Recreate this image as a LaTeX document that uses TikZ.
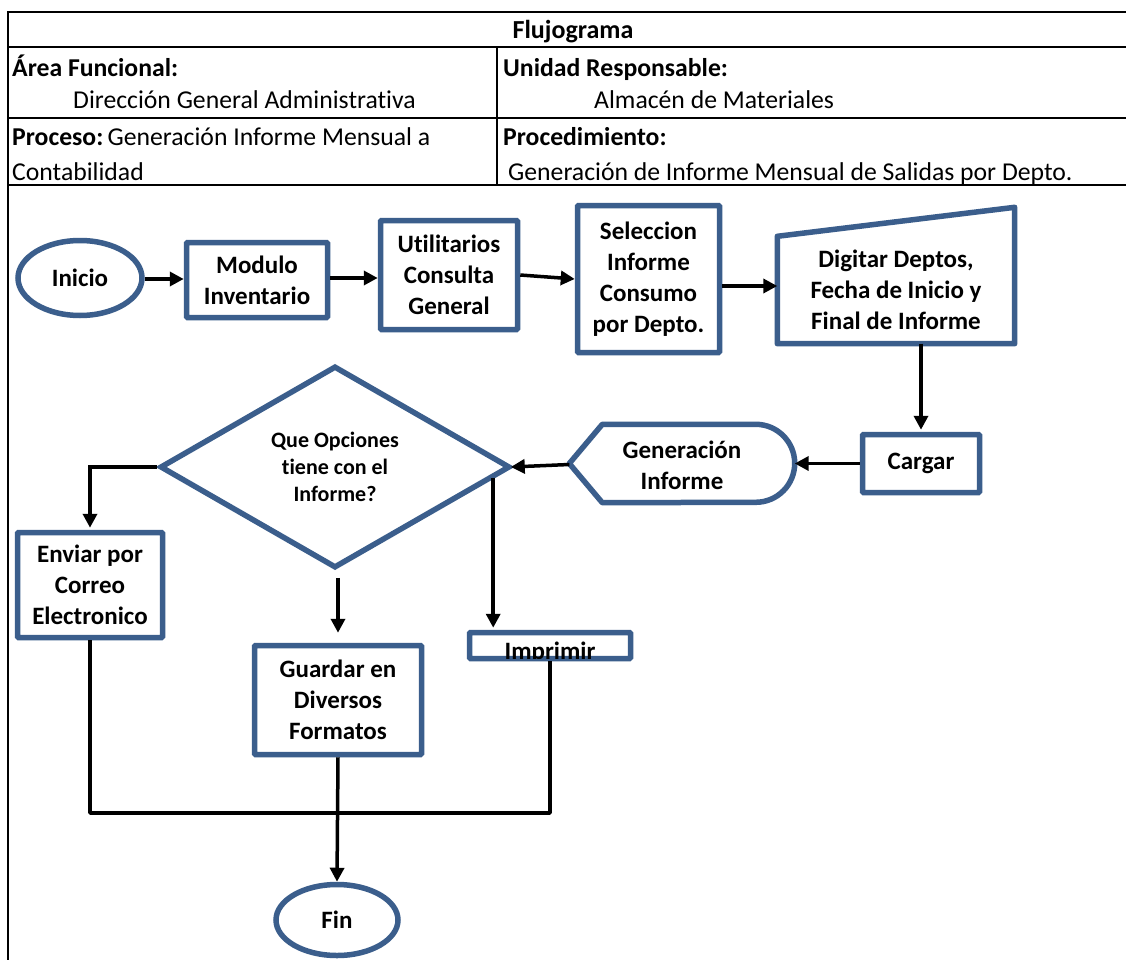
\documentclass[tikz,border=0pt]{standalone}
\usepackage{fontspec}
\setmainfont{Carlito}[Ligatures={NoCommon}]
\usetikzlibrary{shapes.geometric,arrows.meta,calc}
\definecolor{shapeblue}{HTML}{3B5E8C}
\begin{document}
\begin{tikzpicture}[x=1pt,y=-1pt,
  outline/.style={draw=shapeblue, line width=5.5pt, fill=white},
  boxnode/.style={outline, rectangle, rounded corners=1pt, align=center, inner sep=0pt,
    font=\bfseries\fontsize{25}{31}\selectfont},
  ovalnode/.style={outline, ellipse, inner sep=0pt, font=\bfseries\fontsize{25}{31}\selectfont},
  flow/.style={draw=black, line width=3.5pt, -{Triangle[length=14pt,width=14pt]}},
  joinline/.style={draw=black, line width=3.5pt},
  gridline/.style={draw=black, line width=1.6pt},
  heavyline/.style={draw=black, line width=2.4pt},
  cell/.style={anchor=base west, inner sep=0pt, font=\fontsize{25.7}{31}\selectfont},
]
\useasboundingbox (0,0) rectangle (1126,960);
\fill[white] (0,0) rectangle (1126,960);

% ---- header table ----
\draw[gridline] (8,960) -- (8,12) -- (1130,12);
\draw[gridline] (8,47) -- (1130,47);
\draw[heavyline] (8,118) -- (1130,118);
\draw[heavyline] (8,185) -- (1130,185);
\draw[gridline] (497,47) -- (497,185);

\node[anchor=base, inner sep=0pt, font=\bfseries\fontsize{26}{31}\selectfont] (title) at (573,39) {Flujograma};
\node[cell, font=\bfseries\fontsize{25.7}{31}\selectfont] (area) at (12,77) {Área Funcional:};
\node[cell] (areav) at (73,109) {Dirección General Administrativa};
\node[cell, font=\bfseries\fontsize{25.7}{31}\selectfont] (unid) at (503,77) {Unidad Responsable:};
\node[cell] (unidv) at (594,109) {Almacén de Materiales};
\node[cell] (proc) at (12,146) {\textbf{Proceso:}\,Generación Informe Mensual a};
\node[cell] (procv) at (12,180) {Contabilidad};
\node[cell, font=\bfseries\fontsize{25.7}{31}\selectfont] (pdto) at (503,146) {Procedimiento:};
\node[cell] (pdtov) at (508,180) {Generación de Informe Mensual de Salidas por Depto.};

% ---- flowchart shapes ----
\node[ovalnode, minimum width=124, minimum height=75] (ini) at (80,278) {Inicio};
\node[boxnode, minimum width=141, minimum height=75] (mod) at (257,280) {Modulo\\Inventario};
\node[boxnode, minimum width=137, minimum height=109] (util) at (449,275) {Utilitarios\\Consulta\\General};
\node[boxnode, minimum width=142, minimum height=147] (sel) at (648.5,279) {Seleccion\\Informe\\Consumo\\por Depto.};

% manual input (slanted top)
\node[rectangle, minimum width=237, minimum height=107, inner sep=0pt, align=center,
  font=\bfseries\fontsize{25}{31}\selectfont] (dig) at (896,290) {Digitar Deptos,\\Fecha de Inicio y\\Final de Informe};
\draw[draw=shapeblue, line width=5.5pt, line join=round]
  (dig.south west) -- (dig.south east) -- ([yshift=29pt]dig.north east) -- (dig.north west) -- cycle;

\node[boxnode, minimum width=117, minimum height=58] (car) at (921,463.5) {Cargar};

% display shape
\node[rectangle, minimum width=225, minimum height=78, inner sep=0pt] (gen) at (682,463.5) {};
\draw[draw=shapeblue, line width=5.5pt, line join=round, fill=white]
  (gen.west) -- ([xshift=33pt]gen.north west) -- ([xshift=-39pt]gen.north east)
  arc[start angle=90, end angle=-90, radius=39pt]
  -- ([xshift=33pt]gen.south west) -- cycle;
\node[align=center, inner sep=0pt, font=\bfseries\fontsize{25}{31}\selectfont] (gentxt) at (682,465) {Generación\\Informe};

\node[outline, diamond, aspect=1.73, minimum width=350, minimum height=202, inner sep=0pt,
  align=center, font=\bfseries\fontsize{22}{27}\selectfont] (dec) at (335,467) {Que Opciones\\tiene con el\\Informe?};

\node[boxnode, minimum width=145, minimum height=105] (env) at (90,585) {Enviar por\\Correo\\Electronico};
\node[boxnode, minimum width=167, minimum height=109] (gua) at (338,700) {Guardar en\\Diversos\\Formatos};
\node[boxnode, minimum width=161, minimum height=26] (imp) at (550,645.5) {};
\begin{scope}
  \clip ([shift={(2.75pt,2.75pt)}]imp.south west) rectangle ([shift={(-2.75pt,-2.75pt)}]imp.north east);
  \node[anchor=base, inner sep=0pt, font=\bfseries\fontsize{25}{31}\selectfont] (imptxt) at ([yshift=2pt]imp.south) {Imprimir};
\end{scope}

\node[ovalnode, minimum width=122, minimum height=71] (fin) at (337,920) {Fin};

% ---- connectors ----
\draw[flow] ([yshift=-1pt]ini.east) -- ([yshift=-1pt]ini.east -| mod.west);
\draw[flow] ([yshift=2pt]mod.east) -- ([yshift=2pt]mod.east -| util.west);
\draw[flow] (util.east) -- (sel.west);
\draw[flow] ([yshift=-7pt]sel.east) -- ([yshift=-7pt]sel.east -| dig.west);
\draw[flow] (dig.south -| car.north) -- ([yshift=2pt]car.north);
\draw[flow] (car.west) -- (gen.east);
\draw[flow] ([yshift=-1pt]gen.west) -- ([xshift=-2pt]dec.east);
\draw[flow] (dec.west) -| ([yshift=2pt]env.north);
\draw[flow, shorten <=7pt, shorten >=10pt] (dec.south -| gua.north) -- (gua.north);
\coordinate (tap) at ($(dec.east)!0.11!(dec.south)$);
\draw[flow] (tap) -- ([yshift=2pt]tap |- imp.north);
\coordinate (mrg) at (337,813);
\draw[joinline, line join=round] (env.south) -- (env.south |- mrg) -- (imp.south |- mrg) -- (imp.south);
\draw[flow] (gua.south) -- (fin.north);
\end{tikzpicture}
\end{document}
